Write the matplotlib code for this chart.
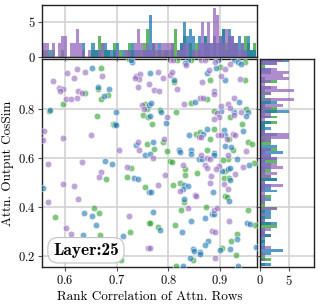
import numpy as np
import matplotlib
matplotlib.use("Agg")
import matplotlib.pyplot as plt

# ---- data ----
purple_x = [0.576,0.603,0.623,0.617,0.639,0.671,0.589,0.596,0.591,0.626,0.633,0.601,0.611,0.624,
            0.738,0.746,0.743,0.736,0.741,0.762,0.749,0.752,0.803,0.809,0.835,0.864,0.871,0.891,
            0.919,0.909,0.879,0.865,0.902,0.938,0.779,0.790,0.803,0.806,0.817,0.773,0.782,0.888,
            0.888,0.830,0.862,0.867,0.915,0.927,0.920,0.798,0.901,0.894,0.897,0.889,0.927,0.940,
            0.559,0.557,0.596,0.651,0.704,0.741,0.744,0.567,0.632,0.669,0.665,0.719,0.596,0.618,
            0.770,0.791,0.864,0.859,0.864,0.896,0.901,0.914,0.925,0.929,0.950,0.915,0.875,0.880,
            0.828,0.870,0.875,0.897,0.893,0.944,0.883,0.928,0.793,0.780,0.822,0.880,0.908,0.915,
            0.851,0.567,0.625,0.601,0.612,0.724,0.761,0.575,0.853,0.838,0.888,0.894,0.917,0.885,
            0.891,0.764,0.891]
purple_y = [0.912,0.943,0.960,0.925,0.948,0.933,0.883,0.880,0.870,0.873,0.864,0.838,0.838,0.843,
            0.932,0.940,0.922,0.925,0.887,0.898,0.813,0.800,0.997,0.997,0.976,0.998,0.998,0.987,
            0.979,0.960,0.957,0.908,0.933,0.918,0.947,0.925,0.936,0.949,0.879,0.877,0.873,0.870,
            0.861,0.818,0.841,0.843,0.819,0.843,0.804,0.765,0.811,0.780,0.765,0.756,0.773,0.786,
            0.708,0.671,0.680,0.691,0.630,0.664,0.633,0.576,0.581,0.541,0.524,0.562,0.493,0.485,
            0.599,0.678,0.610,0.684,0.684,0.691,0.691,0.678,0.698,0.694,0.627,0.613,0.600,0.596,
            0.572,0.569,0.558,0.566,0.553,0.562,0.528,0.535,0.532,0.488,0.466,0.499,0.495,0.474,
            0.450,0.422,0.431,0.315,0.289,0.365,0.234,0.212,0.447,0.395,0.390,0.395,0.345,0.304,
            0.300,0.232,0.192]

blue_x = [0.653,0.664,0.686,0.675,0.571,0.699,0.697,0.730,0.727,0.762,0.838,0.833,0.896,0.927,
          0.935,0.940,0.893,0.874,0.909,0.764,0.810,0.767,0.851,0.936,0.786,0.764,0.796,0.901,
          0.927,0.954,0.950,0.699,0.738,0.755,0.678,0.690,0.733,0.741,0.557,0.763,0.764,0.770,
          0.821,0.823,0.843,0.843,0.888,0.888,0.875,0.867,0.839,0.908,0.910,0.944,0.910,0.922,
          0.933,0.860,0.865,0.904,0.915,0.920,0.955,0.920,0.831,0.838,0.828,0.766,0.886,0.636,
          0.652,0.659,0.635,0.713,0.917,0.830,0.885,0.889,0.870,0.770,0.784,0.843,0.952,0.958,
          0.826,0.933,0.877,0.871,0.848,0.849,0.862,0.862,0.899,0.920,0.969,0.841,0.828,0.935]
blue_y = [0.963,0.887,0.881,0.853,0.796,0.786,0.737,0.987,0.999,0.813,0.997,0.983,0.997,0.997,
          0.990,0.979,0.963,0.943,0.915,0.943,0.916,0.823,0.827,0.827,0.784,0.769,0.740,0.789,
          0.786,0.786,0.770,0.732,0.651,0.610,0.588,0.576,0.519,0.512,0.479,0.463,0.617,0.664,
          0.633,0.623,0.630,0.617,0.619,0.610,0.716,0.698,0.691,0.712,0.694,0.708,0.648,0.644,
          0.594,0.596,0.594,0.545,0.556,0.558,0.569,0.508,0.490,0.484,0.474,0.463,0.460,0.376,
          0.363,0.328,0.287,0.284,0.425,0.431,0.372,0.370,0.357,0.379,0.308,0.342,0.337,0.333,
          0.300,0.271,0.264,0.246,0.230,0.220,0.219,0.209,0.226,0.230,0.239,0.192,0.159,0.162]

green_x = [0.669,0.639,0.664,0.684,0.670,0.596,0.568,0.662,0.693,0.724,0.754,0.759,0.751,0.761,
           0.817,0.843,0.899,0.948,0.880,0.948,0.811,0.843,0.874,0.814,0.769,0.889,0.920,0.951,
           0.943,0.784,0.694,0.759,0.680,0.728,0.719,0.754,0.773,0.790,0.798,0.874,0.854,0.862,
           0.880,0.889,0.918,0.954,0.962,0.925,0.915,0.905,0.803,0.806,0.833,0.832,0.910,0.966,
           0.856,0.908,0.917,0.809,0.822,0.580,0.656,0.666,0.668,0.762,0.726,0.708,0.909,0.913,
           0.830,0.824,0.873,0.954,0.764,0.779,0.813,0.968,0.933,0.922,0.904,0.931,0.848,0.815]
green_y = [0.963,0.864,0.879,0.857,0.838,0.818,0.792,0.771,0.736,1.000,0.820,0.800,0.773,0.765,
           0.997,0.997,0.969,0.987,0.915,0.914,0.908,0.824,0.837,0.784,0.736,0.789,0.766,0.800,
           0.736,0.796,0.732,0.657,0.515,0.558,0.524,0.481,0.637,0.664,0.626,0.630,0.698,0.705,
           0.678,0.716,0.678,0.664,0.657,0.630,0.594,0.592,0.589,0.583,0.553,0.531,0.545,0.580,
           0.538,0.517,0.517,0.490,0.499,0.358,0.395,0.376,0.287,0.336,0.298,0.186,0.447,0.440,
           0.420,0.390,0.402,0.389,0.336,0.318,0.327,0.327,0.291,0.264,0.232,0.205,0.186,0.162]

series = [
    ("green", green_x, green_y, "#2ca02c"),
    ("blue", blue_x, blue_y, "#1f77b4"),
    ("purple", purple_x, purple_y, "#9467bd"),
]
x_ticks = [0.6, 0.7, 0.8, 0.9]
y_ticks = [0.2, 0.4, 0.6, 0.8]
label_text = "Layer:25"
xlabel = "Rank Correlation of Attn. Rows"
ylabel = "Attn. Output CosSim"

plt.rcParams["font.family"] = ["cmr10", "DejaVu Serif"]
plt.rcParams["axes.formatter.use_mathtext"] = True
plt.rcParams["font.size"] = 9

fig = plt.figure(figsize=(3.19, 3.05), dpi=100)
ax = fig.add_axes([0.1326, 0.1256, 0.8066 - 0.1326, 0.8056 - 0.1256])
axt = fig.add_axes([0.1326, 0.812, 0.8066 - 0.1326, 0.9836 - 0.812], sharex=ax)
axr = fig.add_axes([0.814, 0.1256, 0.984 - 0.814, 0.8056 - 0.1256], sharey=ax)

all_x = np.concatenate([np.asarray(s[1]) for s in series])
all_y = np.concatenate([np.asarray(s[2]) for s in series])
xbins = np.histogram_bin_edges(all_x, bins=70)
ybins = np.histogram_bin_edges(all_y, bins=70)

for a in (ax, axt, axr):
    a.set_axisbelow(True)
    a.grid(True, color="#d3d3d3", linewidth=1.2)
    for sp in a.spines.values():
        sp.set_color("#222222")
        sp.set_linewidth(1.0)
    a.tick_params(length=3, width=0.8, color="#555555", pad=2)

for name, xs, ys, col in series:
    ax.scatter(xs, ys, s=22, color=col, alpha=0.6, edgecolor="white", linewidth=0.6, zorder=3)
    axt.hist(xs, bins=xbins, color=col, alpha=0.75, linewidth=0)
    axr.hist(ys, bins=ybins, color=col, alpha=0.75, linewidth=0, orientation="horizontal")

ax.set_xlim(0.556, 0.972)
ax.set_ylim(0.158, 1.0)
ax.set_xticks(x_ticks)
ax.set_yticks(y_ticks)
ax.set_xlabel(xlabel, labelpad=3, fontsize=9.5)
ax.set_ylabel(ylabel, labelpad=3, fontsize=9.5)

axt.set_ylim(0, 7.4)
axt.set_yticks([0, 5])
axt.tick_params(labelbottom=False)
axr.set_xlim(0, 9.4)
axr.set_xticks([0, 5])
axr.tick_params(labelleft=False)

ax.text(0.05, 0.043, label_text, transform=ax.transAxes, fontsize=12.5,
        family=["cmb10", "DejaVu Serif"], ha="left", va="bottom", zorder=5,
        bbox=dict(boxstyle="round,pad=0.3,rounding_size=0.6", facecolor="white",
                  edgecolor="#bbbbbb", linewidth=0.8, alpha=0.9))

fig.savefig("out.png", dpi=100)
